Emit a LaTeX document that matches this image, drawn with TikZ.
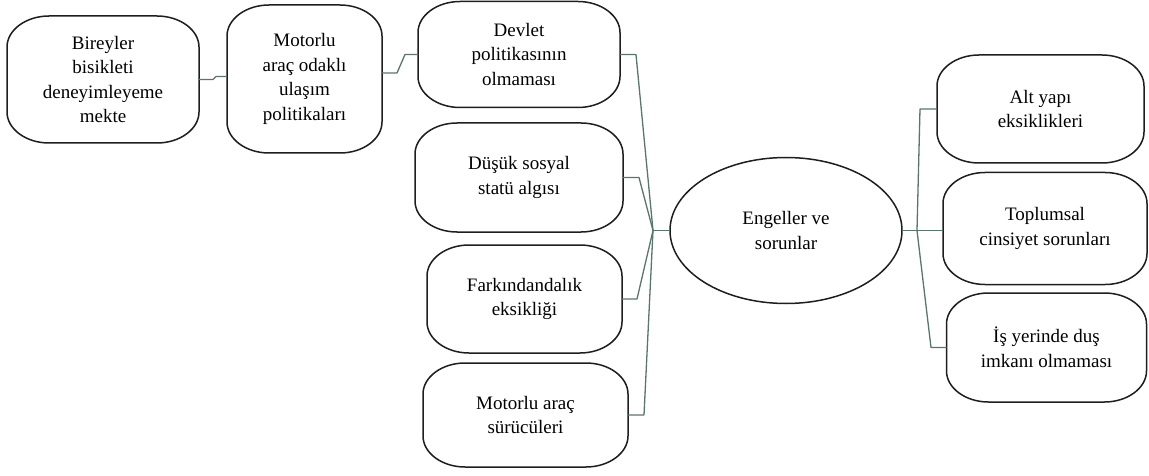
\documentclass[tikz,border=0pt]{standalone}
\usepackage{fontspec}
\setmainfont{Liberation Serif}
\usetikzlibrary{calc,shapes.geometric}

\definecolor{edgeink}{HTML}{1E1E1E}
\definecolor{linkink}{HTML}{5A7569}

\tikzset{
  pill/.style={inner sep=0pt, outer sep=0pt, align=center,
    font=\fontsize{19}{24.5}\selectfont},
  boxline/.style={draw=edgeink, line width=1.5pt},
  link/.style={draw=linkink, line width=1.3pt, line join=round},
}

% box outline with elliptical corners, drawn on a node's rectangle
\newcommand\pilloutline[1]{%
  \draw[boxline] let \p1=(#1.north west), \p2=(#1.south east) in
    (\x1+42pt,\y1) -- (\x2-42pt,\y1)
    .. controls (\x2-19pt,\y1) and (\x2,\y1-14pt) .. (\x2,\y1-31pt)
    -- (\x2,\y2+31pt)
    .. controls (\x2,\y2+14pt) and (\x2-19pt,\y2) .. (\x2-42pt,\y2)
    -- (\x1+42pt,\y2)
    .. controls (\x1+19pt,\y2) and (\x1,\y2+14pt) .. (\x1,\y2+31pt)
    -- (\x1,\y1-31pt)
    .. controls (\x1,\y1-14pt) and (\x1+19pt,\y1) .. cycle;}

\begin{document}
\begin{tikzpicture}[x=1pt, y=-1pt]
  \useasboundingbox (0,0) rectangle (1149,476);

  % left chain
  \node[pill, minimum width=192, minimum height=127] (bir) at (103,79.5)
    {Bireyler\\bisikleti\\deneyimleyeme\\mekte};
  \node[pill, minimum width=155, minimum height=148] (mot) at (304.5,79)
    {Motorlu\\araç odaklı\\ulaşım\\politikaları};

  % causes
  \node[pill, minimum width=202, minimum height=106] (dev) at (519,54.5)
    {Devlet\\politikasının\\olmaması};
  \node[pill, minimum width=208, minimum height=109] (sos) at (519,177.5)
    {Düşük sosyal\\statü algısı};
  \node[pill, minimum width=195, minimum height=108] (far) at (524.5,299)
    {Farkındandalık\\eksikliği};
  \node[pill, minimum width=205, minimum height=104] (mts) at (525.5,415)
    {Motorlu araç\\sürücüleri};

  % centre
  \node[ellipse, boxline, inner sep=0pt, outer sep=0pt,
        minimum width=232, minimum height=146, align=center,
        font=\fontsize{19}{24.5}\selectfont] (eng) at (786,230.5)
    {Engeller ve\\sorunlar};

  % right branch
  \node[pill, minimum width=207, minimum height=108] (alt) at (1040.5,109)
    {Alt yapı\\eksiklikleri};
  \node[pill, minimum width=204, minimum height=112] (top) at (1045,228.5)
    {Toplumsal\\cinsiyet sorunları};
  \node[pill, minimum width=200, minimum height=109] (isy) at (1046.5,347.5)
    {İş yerinde duş\\imkanı olmaması};

  \foreach \bx in {bir,mot,dev,sos,far,mts,alt,top,isy} {\pilloutline{\bx}}

  % junctions
  \coordinate (jl) at (653,230.5);
  \coordinate (jr) at (917,230.5);

  % connectors
  \draw[link] (bir.east) -- ++(14,0) -- ++(3,-3) -- (mot.west |- 0,76.5);
  \draw[link] ([yshift=6pt]mot.east) -- ++(15,0) -- ++(8,-18.5) -- (dev.west);

  \draw[link] (dev.east) -- ++(16,0) -- (jl);
  \draw[link] (sos.east) -- ++(16,0) -- (jl);
  \draw[link] (far.east) -- ++(15,0) -- (jl);
  \draw[link] (mts.east) -- ++(16,0) -- (jl);
  \draw[link] (jl) -- (eng.west);

  \draw[link] (eng.east) -- (jr);
  \draw[link] (jr) -- (alt.west -| 920,0) -- (alt.west);
  \draw[link] (jr) -- (top.west |- jr);
  \draw[link] (jr) -- (isy.west -| 931,0) -- (isy.west);
\end{tikzpicture}
\end{document}
